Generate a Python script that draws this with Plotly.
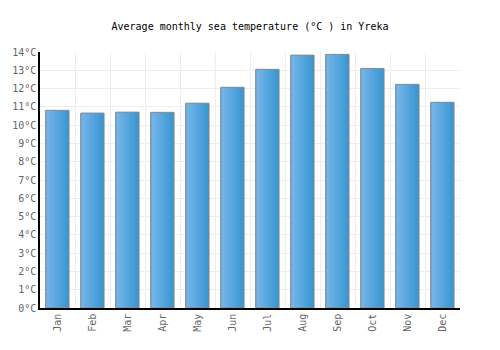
import plotly.graph_objects as go

months = ["Jan", "Feb", "Mar", "Apr", "May", "Jun", "Jul", "Aug", "Sep", "Oct", "Nov", "Dec"]
sea_temp = [10.81, 10.66, 10.71, 10.70, 11.20, 12.07, 13.05, 13.83, 13.87, 13.10, 12.23, 11.25]
y_ticks = list(range(0, 15))
y_tick_labels = [f"{v}°C" for v in y_ticks]

title_text = "Average monthly sea temperature (°C ) in Yreka"
font_family = "DejaVu Sans Mono"

W = 0.66
N = 14
c0 = (0x76, 0xb6, 0xea)
c1 = (0x3a, 0x97, 0xd2)

fig = go.Figure()
for i in range(N):
    t = i / (N - 1)
    col = tuple(round(c0[k] + (c1[k] - c0[k]) * t) for k in range(3))
    fig.add_trace(go.Bar(
        x=months, y=sea_temp,
        width=W / N * 1.15 if i < N - 1 else W / N,
        offset=-W / 2 + i * W / N,
        marker=dict(color="rgb(%d,%d,%d)" % col, line=dict(width=0)),
        hoverinfo="skip", showlegend=False,
    ))
fig.add_trace(go.Bar(
    x=months, y=sea_temp, width=W, offset=-W / 2,
    marker=dict(color="rgba(0,0,0,0)", line=dict(color="#888888", width=1)),
    showlegend=False,
))

fig.update_layout(
    width=500, height=350,
    margin=dict(l=40, r=40, t=52, b=42),
    barmode="overlay",
    paper_bgcolor="white", plot_bgcolor="white",
    font=dict(family=font_family, size=10, color="#666666"),
    title=dict(text=title_text, x=0.5, xanchor="center", y=0.925, yanchor="middle",
               font=dict(family=font_family, size=10, color="#000000")),
)
fig.update_xaxes(
    type="category", tickson="boundaries", showgrid=True, gridcolor="#eeeeee", gridwidth=1,
    showline=True, linecolor="#000000", linewidth=1.5, tickangle=-90, ticks="",
    range=[-0.5, 11.5], mirror=False, zeroline=False,
)
fig.update_yaxes(
    range=[0, 14], tickmode="array", tickvals=y_ticks, ticktext=y_tick_labels,
    showgrid=True, gridcolor="#eeeeee",
    gridwidth=1, showline=True, linecolor="#000000", linewidth=1.5, ticks="", zeroline=False,
)
fig.write_html("out.html")
